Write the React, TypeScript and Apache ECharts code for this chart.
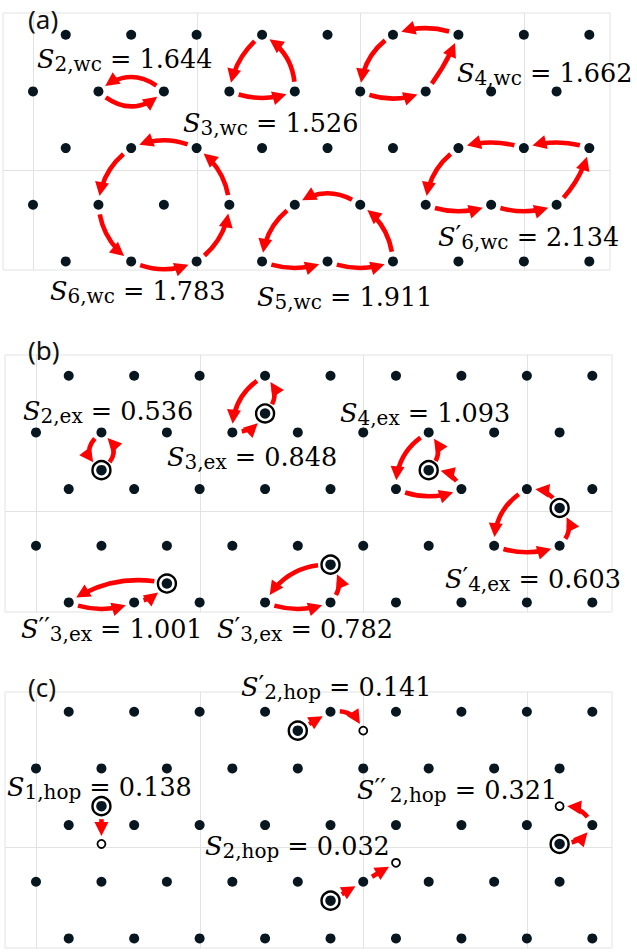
import React, { useEffect, useRef } from 'react';
import * as echarts from 'echarts';

// ---------- lattice data (units: nearest-neighbour distance = 1) ----------
const Y1 = 2.067, Y2 = 1.201, Y3 = 0.335, Y4 = -0.531, Y5 = -1.397;
const ROW_Y = [Y1, Y2, Y3, Y4, Y5];
const COLS_OFFSET = [0.5, 1.5, 2.5, 3.5, 4.5, 5.5, 6.5, 7.5, 8.5];
const COLS_ALIGNED = [0, 1, 2, 3, 4, 5, 6, 7, 8];
// triangle-centre levels
const T12 = 1.49, T12b = 1.778, T23 = 0.624, T34 = -0.242, T34b = 0.046, T45 = -1.108, T45b = -0.82;
// light grid lines
const GRID_X = [0, 2.5, 5, 7.5];
const GRID_Y = [0];

// arrows: [x from, y from, x to, y to, bend]
const ARROWS_A = [
  [2, Y2, 1, Y2, -0.44], [1, Y2, 2, Y2, -0.46],
  [3, Y2, 4, Y2, -0.2], [4, Y2, 3.5, Y1, -0.3], [3.5, Y1, 3, Y2, -0.2],
  [6.5, Y1, 5.5, Y1, -0.2], [5.5, Y1, 5, Y2, -0.26], [5, Y2, 6, Y2, -0.22], [6, Y2, 6.5, Y1, -0.08],
  [2.5, Y3, 1.5, Y3, -0.24], [1.5, Y3, 1, Y4, -0.24], [1, Y4, 1.5, Y5, -0.24],
  [1.5, Y5, 2.5, Y5, -0.24], [2.5, Y5, 3, Y4, -0.24], [3, Y4, 2.5, Y3, -0.24],
  [5, Y4, 4, Y4, -0.35], [4, Y4, 3.5, Y5, -0.25], [3.5, Y5, 4.5, Y5, -0.2],
  [4.5, Y5, 5.5, Y5, -0.2], [5.5, Y5, 5, Y4, -0.25],
  [6, Y4, 7, Y4, -0.2], [7, Y4, 8, Y4, -0.2], [8, Y4, 8.5, Y3, -0.15],
  [8.5, Y3, 7.5, Y3, -0.17], [7.5, Y3, 6.5, Y3, -0.17], [6.5, Y3, 6, Y4, -0.25],
];
const ARROWS_B = [
  [1, Y2, 1, T23, -0.65], [1, T23, 1, Y2, -0.65],
  [3.5, Y1, 3, Y2, -0.3], [3, Y2, 3.5, T12, -0.3], [3.5, T12, 3.5, Y1, -0.5],
  [6, Y2, 5.5, Y3, -0.3], [5.5, Y3, 6.5, Y3, -0.22], [6.5, Y3, 6, T23, -0.35], [6, T23, 6, Y2, -0.5],
  [8, T34b, 7.5, Y3, -0.35], [7.5, Y3, 7, Y4, -0.3], [7, Y4, 8, Y4, -0.2], [8, Y4, 8, T34b, -0.5],
  [2, T45, 0.5, Y5, -0.22], [0.5, Y5, 1.5, Y5, -0.2], [1.5, Y5, 2, T45, -0.2],
  [4.5, T45b, 3.5, Y5, -0.3], [3.5, Y5, 4.5, Y5, -0.2], [4.5, Y5, 4.5, T45b, -0.45],
];
const ARROWS_C = [
  [4, T12b, 4.5, Y1, 0], [4.5, Y1, 5, T12b, 0.4],
  [1, T23, 1, T34b, 0],
  [4.5, T45b, 5, Y4, 0], [5, Y4, 5.5, T34, 0],
  [8, T34b, 8.5, Y3, -0.3], [8.5, Y3, 8, T23, -0.35],
];
// ringed (occupied centre) sites and open (empty) sites
const RINGS_B = [[1, T23], [3.5, T12], [6, T23], [8, T34b], [2, T45], [4.5, T45b]];
const RINGS_C = [[4, T12b], [1, T23], [4.5, T45b], [8, T34b]];
const HOLES_C = [[5, T12b], [1, T34b], [5.5, T34], [8, T23]];

// labels: [prime, subscript, value]
const LABELS_A = [
  ['', '2,wc', '1.644'], ['', '3,wc', '1.526'], ['', '4,wc', '1.662'],
  ['', '6,wc', '1.783'], ['', '5,wc', '1.911'], ['′', '6,wc', '2.134'],
];
const LABELS_B = [
  ['', '2,ex', '0.536'], ['', '3,ex', '0.848'], ['', '4,ex', '1.093'],
  ['′', '4,ex', '0.603'], ['′′', '3,ex', '1.001'], ['′', '3,ex', '0.782'],
];
const LABELS_C = [
  ['′', '2,hop', '0.141'], ['', '1,hop', '0.138'], ['', '2,hop', '0.032'], ['′′', '2,hop', '0.321'],
];
const PANEL_NAMES = ['(a)', '(b)', '(c)'];

// ---------- layout ----------
const PX = 65.45;
const LABEL_POS_A = [[37, 59, 0], [183, 123, 0], [457, 73, 0], [50, 291, 0], [257, 297, 0], [438, 237, 0]];
const LABEL_POS_B = [[23, 411, 0], [167, 457, 0], [340, 413, 0], [445, 579, 0], [21, 629, 0], [217, 629, 0]];
const LABEL_POS_C = [[241, 687, 0], [7, 787, 0], [205, 846, 0], [357, 790, 1]];
const PANELS = [
  { left: 3, top: 13, width: 607, height: 257, gx: 33, gy: 170, arrows: ARROWS_A, rings: [] as number[][], holes: [] as number[][], labels: LABELS_A, pos: LABEL_POS_A, name: [28, 19] },
  { left: 5, top: 355, width: 607, height: 257, gx: 36, gy: 511, arrows: ARROWS_B, rings: RINGS_B, holes: [] as number[][], labels: LABELS_B, pos: LABEL_POS_B, name: [28, 350] },
  { left: 5, top: 692, width: 607, height: 256, gx: 36, gy: 847, arrows: ARROWS_C, rings: RINGS_C, holes: HOLES_C, labels: LABELS_C, pos: LABEL_POS_C, name: [28, 687] },
];

const RED = '#ff0000';
const DOT = '#08161f';
const LINE = '#e2e2e2';
const SHAFT = 4.6, HEAD_LEN = 14, HEAD_HALF = 7;
const SERIF = '"DejaVu Serif", "Liberation Serif", serif';

function renderGridLine(params: any, api: any) {
  const v = api.value(0);
  const kind = api.value(1);
  const cs = params.coordSys;
  if (kind === 0) {
    const x = Math.round(api.coord([v, 0])[0]) + 0.5;
    return { type: 'line', shape: { x1: x, y1: cs.y, x2: x, y2: cs.y + cs.height }, style: { stroke: LINE, lineWidth: 1 } };
  }
  const y = Math.round(api.coord([0, v])[1]) + 0.5;
  return { type: 'line', shape: { x1: cs.x, y1: y, x2: cs.x + cs.width, y2: y }, style: { stroke: LINE, lineWidth: 1 } };
}

function renderArrow(_params: any, api: any) {
  const a = api.coord([api.value(0), api.value(1)]);
  const b = api.coord([api.value(2), api.value(3)]);
  const bend = api.value(4), g0 = api.value(5), g1 = api.value(6);
  const dx = b[0] - a[0], dy = b[1] - a[1];
  const c = [(a[0] + b[0]) / 2 + dy * bend, (a[1] + b[1]) / 2 - dx * bend];
  const v0 = 2 * Math.hypot(c[0] - a[0], c[1] - a[1]);
  const v1 = 2 * Math.hypot(b[0] - c[0], b[1] - c[1]);
  const t0 = g0 / v0;
  const tTip = 1 - g1 / v1;
  const tEnd = tTip - (HEAD_LEN * 0.7) / v1;
  const pt = (t: number) => {
    const u = 1 - t;
    return [u * u * a[0] + 2 * u * t * c[0] + t * t * b[0], u * u * a[1] + 2 * u * t * c[1] + t * t * b[1]];
  };
  const bl = (s: number, t: number) => {
    const k0 = (1 - s) * (1 - t), k1 = (1 - s) * t + s * (1 - t), k2 = s * t;
    return [k0 * a[0] + k1 * c[0] + k2 * b[0], k0 * a[1] + k1 * c[1] + k2 * b[1]];
  };
  const p0 = pt(t0), p1 = pt(tEnd), pc = bl(t0, tEnd);
  const tip = pt(tTip);
  const u = 1 - tTip;
  let tx = u * (c[0] - a[0]) + tTip * (b[0] - c[0]);
  let ty = u * (c[1] - a[1]) + tTip * (b[1] - c[1]);
  const tl = Math.hypot(tx, ty) || 1;
  tx /= tl; ty /= tl;
  const base = [tip[0] - tx * HEAD_LEN, tip[1] - ty * HEAD_LEN];
  const poly = [tip, [base[0] + ty * HEAD_HALF, base[1] - tx * HEAD_HALF], [base[0] - ty * HEAD_HALF, base[1] + tx * HEAD_HALF]];
  return {
    type: 'group',
    children: [
      { type: 'bezierCurve', shape: { x1: p0[0], y1: p0[1], cpx1: pc[0], cpy1: pc[1], x2: p1[0], y2: p1[1] }, style: { stroke: RED, lineWidth: SHAFT, fill: 'none' } },
      { type: 'polygon', shape: { points: poly }, style: { fill: RED, stroke: 'none' } },
    ],
  };
}

const same = (p: number[], x: number, y: number) => Math.abs(p[0] - x) < 1e-6 && Math.abs(p[1] - y) < 1e-6;

const RICH = {
  s: { fontFamily: SERIF, fontStyle: 'italic', fontSize: 25.5, lineHeight: 30, color: '#000' },
  p: { fontFamily: SERIF, fontSize: 25, lineHeight: 26, verticalAlign: 'top', color: '#000' },
  pw: { fontFamily: SERIF, fontSize: 25, lineHeight: 26, verticalAlign: 'top', color: '#000', padding: [0, 4, 0, 0] },
  sub: { fontFamily: SERIF, fontSize: 20, lineHeight: 20, verticalAlign: 'bottom', color: '#000' },
  eq: { fontFamily: SERIF, fontSize: 25.5, lineHeight: 30, color: '#000' },
};

function buildOption() {
  const grid: any[] = [], xAxis: any[] = [], yAxis: any[] = [], series: any[] = [], graphic: any[] = [];
  const lattice: number[][] = [];
  ROW_Y.forEach((y, r) => (r % 2 === 0 ? COLS_OFFSET : COLS_ALIGNED).forEach((x) => lattice.push([x, y])));

  PANELS.forEach((p, i) => {
    grid.push({ left: p.left, top: p.top, width: p.width, height: p.height, show: true, borderColor: LINE, borderWidth: 1, backgroundColor: 'transparent' });
    xAxis.push({ type: 'value', gridIndex: i, min: (p.left - p.gx) / PX, max: (p.left + p.width - p.gx) / PX, show: false });
    yAxis.push({ type: 'value', gridIndex: i, min: (p.gy - p.top - p.height) / PX, max: (p.gy - p.top) / PX, show: false });

    series.push({
      type: 'custom', xAxisIndex: i, yAxisIndex: i, z: 1, silent: true, renderItem: renderGridLine,
      data: [...GRID_X.map((v) => [v, 0]), ...GRID_Y.map((v) => [v, 1])],
    });
    series.push({
      type: 'scatter', xAxisIndex: i, yAxisIndex: i, z: 3, silent: true, symbol: 'circle', symbolSize: 10,
      itemStyle: { color: DOT, opacity: 1 }, data: lattice,
    });
    const arrowData = p.arrows.map((ar) => {
      const startRing = p.rings.some((q) => same(q, ar[0], ar[1]));
      const endRing = p.rings.some((q) => same(q, ar[2], ar[3]));
      const endHole = p.holes.some((q) => same(q, ar[2], ar[3]));
      return [...ar, startRing ? 13 : 10, endRing ? 13 : endHole ? 8 : 9];
    });
    series.push({ type: 'custom', xAxisIndex: i, yAxisIndex: i, z: 4, silent: true, renderItem: renderArrow, data: arrowData });
    if (p.rings.length) {
      series.push({
        type: 'scatter', xAxisIndex: i, yAxisIndex: i, z: 5, silent: true, symbol: 'circle', symbolSize: 18,
        itemStyle: { color: '#fff', borderColor: '#000', borderWidth: 2.4, opacity: 1 }, data: p.rings,
      });
      series.push({
        type: 'scatter', xAxisIndex: i, yAxisIndex: i, z: 6, silent: true, symbol: 'circle', symbolSize: 10.5,
        itemStyle: { color: DOT, opacity: 1 }, data: p.rings,
      });
    }
    if (p.holes.length) {
      series.push({
        type: 'scatter', xAxisIndex: i, yAxisIndex: i, z: 6, silent: true, symbol: 'circle', symbolSize: 8,
        itemStyle: { color: '#fff', borderColor: '#000', borderWidth: 1.8, opacity: 1 }, data: p.holes,
      });
    }

    graphic.push({
      type: 'text', x: p.name[0], y: p.name[1], z: 10, silent: true,
      style: { text: PANEL_NAMES[i], fontFamily: '"Noto Sans", "Open Sans", sans-serif', fontSize: 26, fill: '#111', align: 'left', verticalAlign: 'middle' },
    });
    p.labels.forEach((lb, k) => {
      const [x, y, wide] = p.pos[k];
      const prime = lb[0] ? (wide ? `{pw|${lb[0]}}` : `{p|${lb[0]}}`) : '';
      graphic.push({
        type: 'text', x, y, z: 10, silent: true,
        style: {
          text: `{s|S}${prime}{sub|${lb[1]}}{eq| = ${lb[2]}}`,
          rich: RICH, align: 'left', verticalAlign: 'middle',
        },
      });
    });
  });

  return { animation: false, backgroundColor: '#fff', grid, xAxis, yAxis, series, graphic };
}

export default function App() {
  const ref = useRef<HTMLDivElement>(null);
  useEffect(() => {
    const chart = echarts.init(ref.current!, null, { renderer: 'svg' });
    chart.setOption(buildOption() as any);
    return () => chart.dispose();
  }, []);
  return <div ref={ref} style={{ position: 'absolute', left: 0, top: 0, width: 637, height: 952, background: '#fff' }} />;
}
